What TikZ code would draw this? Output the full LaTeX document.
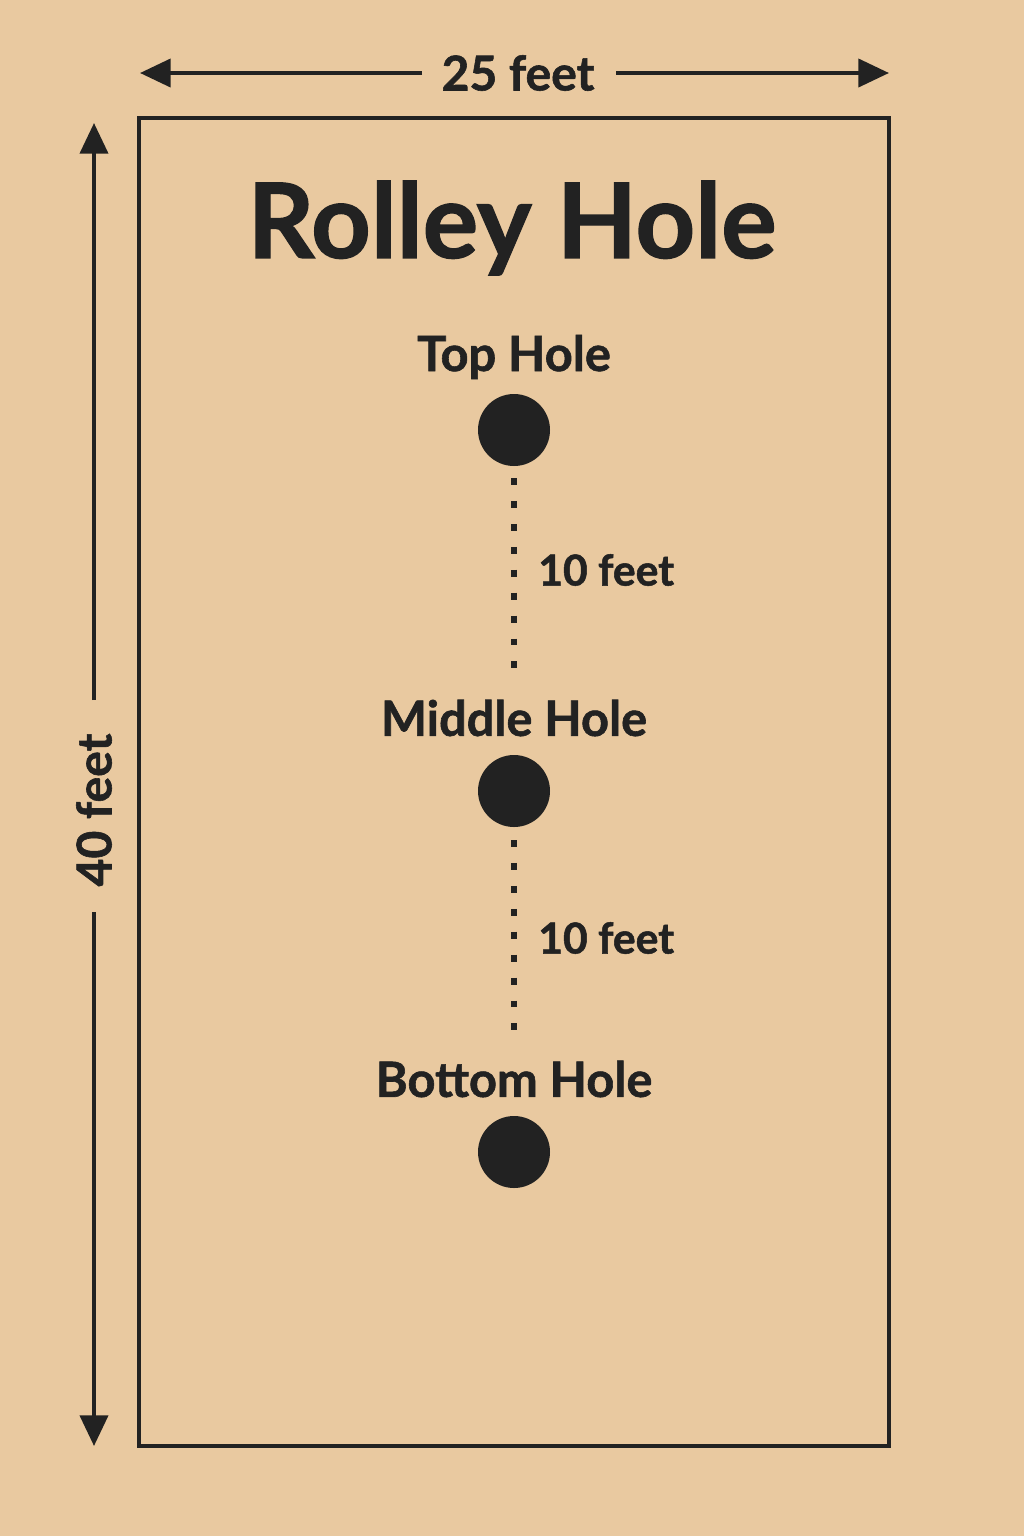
\documentclass[tikz,border=0pt]{standalone}
\usepackage{fontspec}
\setmainfont{Lato}[BoldFeatures={FakeBold=1.2}]
\usetikzlibrary{arrows.meta}
\definecolor{paper}{RGB}{233,201,160}
\definecolor{ink}{RGB}{34,34,34}
\tikzset{
  dimline/.style={draw=ink, line width=3pt, -{Triangle[width=21pt,length=23pt]}},
  court/.style={draw=ink, line width=3.6pt},
  hole/.style={circle, fill=ink, minimum size=54pt, inner sep=0pt},
  holelabel/.style={text=ink, font=\bfseries\fontsize{36.5}{42}\selectfont, inner sep=0pt},
  distlabel/.style={text=ink, font=\bfseries\fontsize{32}{38}\selectfont, inner sep=0pt, anchor=west},
  dimlabel/.style={text=ink, font=\bfseries\fontsize{36}{42}\selectfont, inner sep=0pt},
  dots/.style={draw=ink, line width=5.2pt, dash pattern=on 5.2pt off 12pt},
}
\begin{document}
\begin{tikzpicture}[x=0.75pt,y=-0.75pt]
\useasboundingbox[fill=paper] (0,0) rectangle (1024,1536);
% court
\draw[court] (139,118) rectangle (889,1446);
% width dimension
\node[dimlabel] (w) at (518,73) {25 feet};
\coordinate (wl) at (140,73);
\coordinate (wr) at (889,73);
\draw[dimline] (422,73) -- (wl);
\draw[dimline] (616,73) -- (wr);
% height dimension
\node[dimlabel, rotate=90] (h) at (94,810) {40 feet};
\coordinate (ht) at (94,123);
\coordinate (hb) at (94,1446);
\draw[dimline] (94,700) -- (ht);
\draw[dimline] (94,912) -- (hb);
% title
\node[text=ink, font=\bfseries\fontsize{78}{84}\selectfont, inner sep=0pt] (title) at (512,228) {Rolley Hole};
% holes
\node[holelabel] (tl) at (514,357) {Top Hole};
\node[hole] (t) at (514,430) {};
\node[holelabel] (ml) at (514,718) {Middle Hole};
\node[hole] (m) at (514,791) {};
\node[holelabel] (bl) at (514,1079) {Bottom Hole};
\node[hole] (b) at (514,1152) {};
% distances
\coordinate (d1a) at (514,478);
\coordinate (d1b) at (514,676);
\coordinate (d2a) at (514,840);
\coordinate (d2b) at (514,1038);
\draw[dots] (d1a) -- (d1b);
\draw[dots] (d2a) -- (d2b);
\node[distlabel] (l1) at (538,570) {10 feet};
\node[distlabel] (l2) at (538,938) {10 feet};
\end{tikzpicture}
\end{document}
